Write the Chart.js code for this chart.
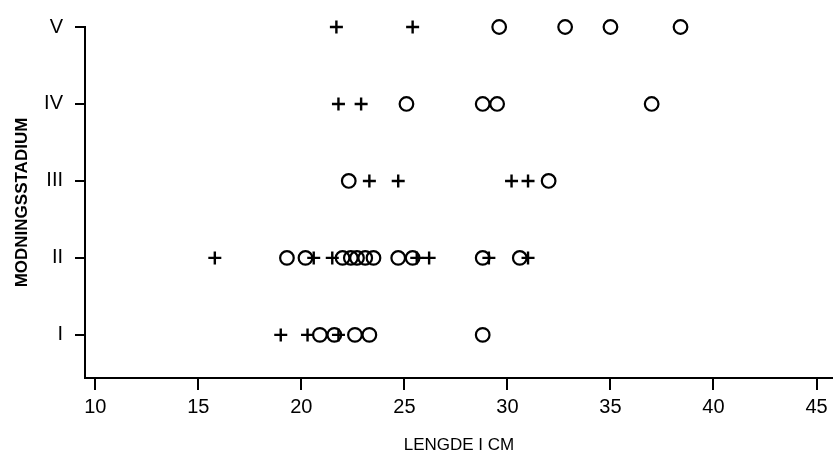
<!DOCTYPE html>
<html>
<head>
<meta charset="utf-8">
<script src="https://cdn.jsdelivr.net/npm/chart.js@4/dist/chart.umd.min.js"></script>
<style>
  html, body { margin: 0; padding: 0; background: #ffffff; }
  #wrap { width: 833px; height: 466px; }
</style>
</head>
<body>
<div id="wrap"><canvas id="chart" width="833" height="466"></canvas></div>
<script>
// Maturity stages (y) and length in cm (x)
const stageLabels = ['I', 'II', 'III', 'IV', 'V'];
const stageValues = [1, 2, 3, 4, 5];
const xTicks = [10, 15, 20, 25, 30, 35, 40, 45];

// Lengths plotted with open circles, per stage
const circleI   = [20.9, 21.6, 22.6, 23.3, 28.8];
const circleII  = [19.3, 20.2, 22.0, 22.4, 22.7, 23.1, 23.5, 24.7, 25.4, 28.8, 30.6];
const circleIII = [22.3, 32.0];
const circleIV  = [25.1, 28.8, 29.5, 37.0];
const circleV   = [29.6, 32.8, 35.0, 38.4];

// Lengths plotted with plus signs, per stage
const plusI   = [19.0, 20.3, 21.8];
const plusII  = [15.8, 20.6, 21.5, 25.6, 26.2, 29.1, 31.0];
const plusIII = [23.3, 24.7, 30.2, 31.0];
const plusIV  = [21.8, 22.9];
const plusV   = [21.7, 25.4];

const circleRows = [circleI, circleII, circleIII, circleIV, circleV];
const plusRows = [plusI, plusII, plusIII, plusIV, plusV];

function toPoints(rows) {
  const pts = [];
  rows.forEach((row, i) => row.forEach(x => pts.push({ x: x, y: stageValues[i] })));
  return pts;
}

const FONT = "'Liberation Sans', Arial, sans-serif";
const INK = '#000000';

// keep the axes flush with the canvas edges
function noEdgePadding(s) { s.paddingLeft = 0; s.paddingRight = 0; s.paddingTop = 0; s.paddingBottom = 0; }

new Chart(document.getElementById('chart').getContext('2d'), {
  type: 'scatter',
  data: {
    datasets: [
      {
        label: 'o',
        data: toPoints(circleRows),
        pointStyle: 'circle',
        pointRadius: 6.8,
        borderColor: INK,
        backgroundColor: 'rgba(0,0,0,0)',
        borderWidth: 2.2,
        clip: false
      },
      {
        label: '+',
        data: toPoints(plusRows),
        pointStyle: 'cross',
        pointRadius: 6.5,
        borderColor: INK,
        backgroundColor: INK,
        borderWidth: 2.4,
        clip: false
      }
    ]
  },
  options: {
    responsive: false,
    animation: false,
    devicePixelRatio: 1,
    layout: { autoPadding: false, padding: { top: 27, right: 0, bottom: 0, left: 0 } },
    plugins: { legend: { display: false }, tooltip: { enabled: false } },
    scales: {
      x: {
        type: 'linear',
        min: 9.5,
        max: 45.8,
        afterBuildTicks: s => { s.ticks = xTicks.map(v => ({ value: v })); },
        afterFit: s => { s.height = 88; noEdgePadding(s); },
        grid: { display: true, drawOnChartArea: false, drawTicks: true, tickLength: 12, color: INK, lineWidth: 2 },
        border: { display: true, color: INK, width: 2 },
        ticks: { color: INK, font: { family: FONT, size: 20 }, padding: 5, maxRotation: 0, autoSkip: false },
        title: { display: true, text: 'LENGDE I CM', color: INK, font: { family: FONT, size: 17 }, padding: { top: 0, bottom: 10 } }
      },
      y: {
        type: 'linear',
        min: 0.44,
        max: 5,
        afterBuildTicks: s => { s.ticks = stageValues.map(v => ({ value: v })); },
        afterFit: s => { s.width = 85; noEdgePadding(s); },
        grid: { display: true, drawOnChartArea: false, drawTicks: true, tickLength: 10, color: INK, lineWidth: 2 },
        border: { display: true, color: INK, width: 2 },
        ticks: { color: INK, font: { family: FONT, size: 20 }, padding: 12, autoSkip: false,
                 callback: v => stageLabels[stageValues.indexOf(v)] },
        title: { display: true, text: 'MODNINGSSTADIUM', color: INK, font: { family: FONT, size: 17, weight: 'bold' }, padding: { top: 12, bottom: 0 } }
      }
    }
  }
});
</script>
</body>
</html>
